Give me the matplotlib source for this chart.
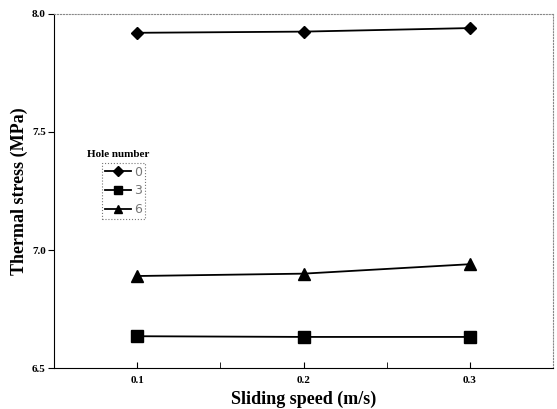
import matplotlib.pyplot as plt

speed = [0.1, 0.2, 0.3]
hole_labels = ["0", "3", "6"]
stress_0 = [7.92, 7.925, 7.94]
stress_3 = [6.635, 6.632, 6.632]
stress_6 = [6.89, 6.90, 6.94]

plt.rcParams['font.family'] = ['Liberation Serif', 'DejaVu Serif']

fig = plt.figure(figsize=(5.57, 4.09), dpi=100)
ax = fig.add_axes([0.097, 0.100, 0.896, 0.866])

ax.plot(speed, stress_0, '-D', color='black', lw=1.3, ms=6, label=hole_labels[0])
ax.plot(speed, stress_3, '-s', color='black', lw=1.3, ms=8, label=hole_labels[1])
ax.plot(speed, stress_6, '-^', color='black', lw=1.3, ms=8, label=hole_labels[2])

ax.set_xlim(0.05, 0.35)
ax.set_ylim(6.5, 8.0)
ax.set_xticks([0.1, 0.2, 0.3])
ax.set_xticks([0.15, 0.25], minor=True)
ax.set_yticks([6.5, 7.0, 7.5, 8.0])
ax.set_xticklabels(['0.1', '0.2', '0.3'], fontsize=8, fontweight='bold')
ax.set_yticklabels(['6.5', '7.0', '7.5', '8.0'], fontsize=8, fontweight='bold')
ax.tick_params(axis='x', which='both', direction='in', length=4, pad=6)
ax.tick_params(axis='y', direction='out', length=4, pad=2)

for s in ['top', 'right']:
    ax.spines[s].set_color('#888888')
    ax.spines[s].set_linestyle(':')
    ax.spines[s].set_linewidth(0.8)
for s in ['left', 'bottom']:
    ax.spines[s].set_linewidth(0.8)

ax.set_xlabel('Sliding speed (m/s)', fontsize=13, fontweight='bold', labelpad=4)
ax.set_ylabel('Thermal stress (MPa)', fontsize=13, fontweight='bold', labelpad=3)

leg = ax.legend(loc='upper left', bbox_to_anchor=(0.096, 0.58),
                frameon=True, fancybox=False, handlelength=2.1, handletextpad=0.2,
                borderpad=0.25, borderaxespad=0, labelspacing=0.45,
                prop={'family': 'DejaVu Sans', 'size': 9}, markerscale=0.8)
leg.get_frame().set_edgecolor('#555555')
leg.get_frame().set_linestyle(':')
leg.get_frame().set_linewidth(0.8)
for t in leg.get_texts():
    t.set_color('#777777')
ax.text(0.128, 0.602, 'Hole number', transform=ax.transAxes, ha='center', va='center',
        fontsize=8, fontweight='bold')

fig.savefig('out.png', dpi=100)
